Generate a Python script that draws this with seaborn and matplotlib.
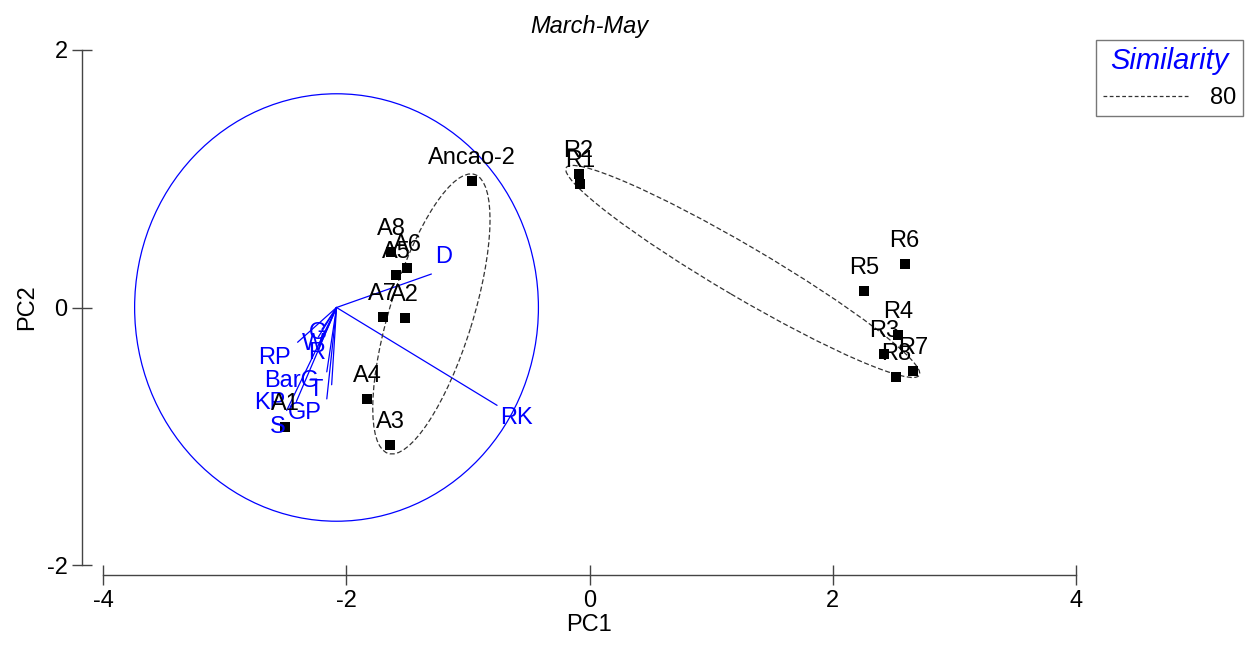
import numpy as np
import pandas as pd
import matplotlib
matplotlib.use("Agg")
import matplotlib.pyplot as plt
from matplotlib.patches import Circle, Ellipse
from matplotlib.lines import Line2D
import seaborn as sns

sns.set_style("white")
plt.rcParams["font.family"] = ["Liberation Sans", "DejaVu Sans"]
plt.rcParams["axes.unicode_minus"] = False
plt.rcParams["text.color"] = "black"

# sample scores (PC1, PC2)
samples = ["Ancao-2", "A8", "A6", "A5", "A7", "A2", "A4", "A3", "A1",
           "R2", "R1", "R6", "R5", "R4", "R3", "R7", "R8"]
pc1 = [-0.97, -1.63, -1.50, -1.59, -1.70, -1.52, -1.83, -1.64, -2.50,
       -0.09, -0.08, 2.59, 2.26, 2.54, 2.42, 2.66, 2.52]
pc2 = [0.98, 0.43, 0.31, 0.25, -0.07, -0.08, -0.71, -1.07, -0.93,
       1.04, 0.96, 0.34, 0.13, -0.21, -0.36, -0.49, -0.54]

# variable vectors (end points) and their label positions
variables = ["D", "RK", "RP", "G", "W", "R", "BarG", "T", "KP", "GP", "S"]
vec_x = [-1.30, -0.76, -2.40, -2.20, -2.23, -2.21, -2.16, -2.12, -2.41, -2.16, -2.49]
vec_y = [0.26, -0.76, -0.27, -0.17, -0.23, -0.28, -0.50, -0.60, -0.73, -0.71, -0.80]
lab_x = [-1.20, -0.60, -2.59, -2.23, -2.27, -2.24, -2.45, -2.25, -2.63, -2.34, -2.56]
lab_y = [0.39, -0.86, -0.39, -0.20, -0.28, -0.35, -0.57, -0.64, -0.74, -0.82, -0.93]
origin = (-2.08, 0.0)
circle_r = 1.66

# similarity 80 contours: centre x, centre y, semi-major, semi-minor, angle
ell_cx = [-1.30, 1.26]
ell_cy = [-0.05, 0.28]
ell_a = [1.14, 1.66]
ell_b = [0.34, 0.20]
ell_ang = [71.7, -29.0]

df = pd.DataFrame({"sample": samples, "PC1": pc1, "PC2": pc2})

fig = plt.figure(figsize=(12.52, 6.5), dpi=100)
ax = fig.add_axes([103 / 1252, 1 - 565 / 650, (1076 - 103) / 1252, (565 - 50) / 650])

# vectors and correlation circle
for vx, vy in zip(vec_x, vec_y):
    ax.plot([origin[0], vx], [origin[1], vy], color="#0000ff", lw=0.9, zorder=2)
ax.add_patch(Circle(origin, circle_r, fill=False, ec="#0000ff", lw=0.9, zorder=2))
for name, lx, ly in zip(variables, lab_x, lab_y):
    ax.text(lx, ly, name, color="#0000ff", fontsize=17, ha="center", va="center", zorder=4)

# similarity ellipses
for cx, cy, a, b, ang in zip(ell_cx, ell_cy, ell_a, ell_b, ell_ang):
    ax.add_patch(Ellipse((cx, cy), 2 * a, 2 * b, angle=ang, fill=False,
                         ec="#333333", lw=0.9, ls=(0, (4, 2)), zorder=2))

sns.scatterplot(data=df, x="PC1", y="PC2", marker="s", color="black", s=42,
                edgecolor="black", linewidth=0, ax=ax, zorder=3, legend=False)
for _, row in df.iterrows():
    ax.annotate(row["sample"], (row["PC1"], row["PC2"]), xytext=(0, 23),
                textcoords="offset pixels", ha="center", va="center",
                fontsize=17, color="black", zorder=4)

ax.set_xlim(-4, 4)
ax.set_ylim(-2, 2)
ax.set_xticks([-4, -2, 0, 2, 4])
ax.set_yticks([-2, 0, 2])
ax.set_xlabel("PC1", fontsize=17, labelpad=2, color="black")
ax.set_ylabel("PC2", fontsize=17, labelpad=6, color="black")
ax.set_title("March-May", fontsize=17, style="italic", pad=12, color="black")
for side in ["top", "right"]:
    ax.spines[side].set_visible(False)
ax.spines["left"].set_position(("outward", 15))
ax.spines["bottom"].set_position(("outward", 7.2))
ax.spines["left"].set_bounds(-2, 2)
ax.spines["bottom"].set_bounds(-4, 4)
for side in ["left", "bottom"]:
    ax.spines[side].set_color("#444444")
    ax.spines[side].set_linewidth(1)
ax.tick_params(axis="both", bottom=True, left=True, direction="inout", length=15,
               width=1, color="#444444", labelsize=17, labelcolor="black", pad=3)
ax.patch.set_alpha(0)

handle = Line2D([], [], color="#333333", lw=0.9, ls=(0, (3, 2)))
leg = fig.legend([handle], ["80"], loc="upper right",
                 bbox_to_anchor=(1243 / 1252, 1 - 40 / 650), borderaxespad=0,
                 title="Similarity", fontsize=17, frameon=True, fancybox=False,
                 handlelength=3.6, borderpad=0.3, handletextpad=0.9,
                 edgecolor="#555555")
leg.get_title().set_color("#0000ff")
leg.get_title().set_fontstyle("italic")
leg.get_title().set_fontsize(21)
leg.get_frame().set_linewidth(1)

fig.savefig("out.png", dpi=100)
